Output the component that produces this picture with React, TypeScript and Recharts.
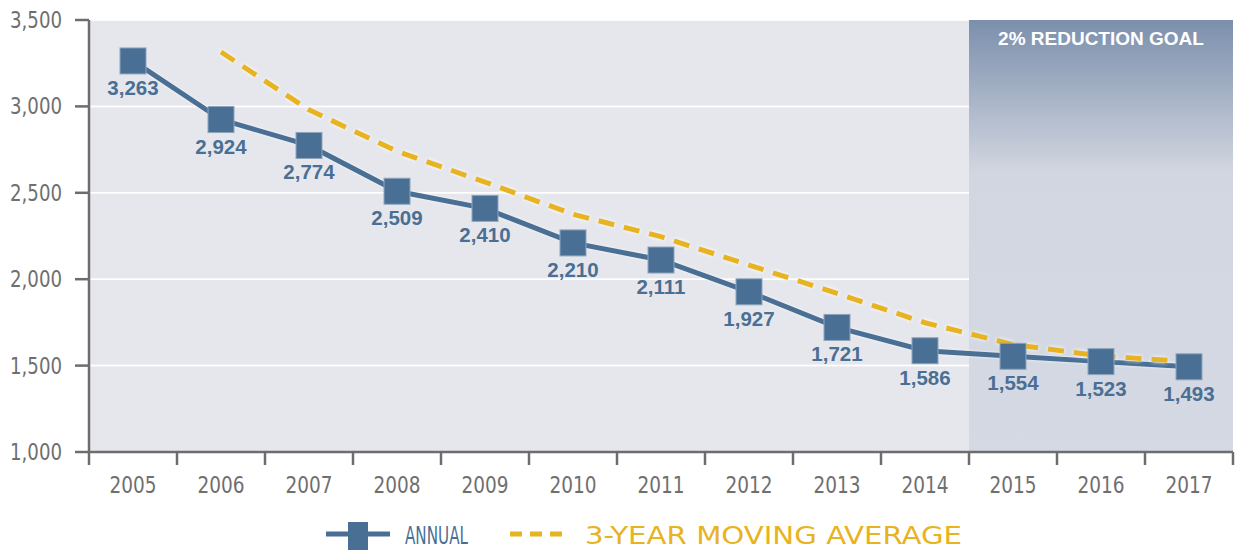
import {
  LineChart,
  Line,
  XAxis,
  YAxis,
  CartesianGrid,
  ReferenceArea,
  Legend,
  LabelList,
} from 'recharts'

const years = ['2005', '2006', '2007', '2008', '2009', '2010', '2011', '2012', '2013', '2014', '2015', '2016', '2017']
const annual = [3263, 2924, 2774, 2509, 2410, 2210, 2111, 1927, 1721, 1586, 1554, 1523, 1493]
const movingAverage = [null, 3315, 2980, 2740, 2562, 2376, 2246, 2082, 1918, 1748, 1622, 1556, 1522]
const yTicks = [1000, 1500, 2000, 2500, 3000, 3500]
const goalFrom = '2015'
const goalTo = '2017'
const goalLabel = '2% REDUCTION GOAL'

const data = years.map((year, i) => ({ year, annual: annual[i], avg: movingAverage[i] }))

const BLUE = '#4a6f94'
const YELLOW = '#e8b321'
const AXIS = '#6d6d6d'
const TEXT = '#6f6f6f'
const NARROW = "'DejaVu Sans Condensed', 'Liberation Sans Narrow', sans-serif"
const BOLD = "'Liberation Sans', Arial, sans-serif"

const fmt = (v: number) => v.toLocaleString('en-US')

function XTick(props: any) {
  const { x, y, payload, index, visibleTicksCount, width } = props
  const half = width / years.length / 2
  return (
    <g>
      <line x1={x - half} x2={x - half} y1={y} y2={y + 13} stroke={AXIS} strokeWidth={2.5} />
      {index === visibleTicksCount - 1 && (
        <line x1={x + half} x2={x + half} y1={y} y2={y + 13} stroke={AXIS} strokeWidth={2.5} />
      )}
      <text
        x={x}
        y={y + 41}
        textAnchor="middle"
        fontSize={23}
        fill={TEXT}
        fontFamily={NARROW}
        textLength={47}
        lengthAdjust="spacingAndGlyphs"
      >
        {payload.value}
      </text>
    </g>
  )
}

function YTick(props: any) {
  const { x, y, payload } = props
  return (
    <text
      x={x}
      y={y + 8}
      textAnchor="end"
      fontSize={23}
      fill={TEXT}
      fontFamily={NARROW}
      textLength={52}
      lengthAdjust="spacingAndGlyphs"
    >
      {fmt(payload.value)}
    </text>
  )
}

function SquareDot(props: any) {
  const { cx, cy, index } = props
  if (cx == null || cy == null) return null
  return (
    <rect
      key={`sq-${index}`}
      x={cx - 13}
      y={cy - 13}
      width={26}
      height={26}
      fill={BLUE}
      stroke="#8ea5bd"
      strokeWidth={1}
    />
  )
}

function ValueLabel(props: any) {
  const { x, y, value } = props
  return (
    <text x={x} y={y + 34} textAnchor="middle" fontSize={20.5} fontWeight="bold" fill={BLUE} fontFamily={BOLD}>
      {fmt(value)}
    </text>
  )
}

function ChartLegend() {
  const svgStyle = { overflow: 'visible' as const, display: 'block' }
  return (
    <div style={{ display: 'flex', alignItems: 'flex-start', height: 38, paddingLeft: 326, paddingTop: 4, boxSizing: 'border-box' }}>
      <svg width={64} height={32} style={{ ...svgStyle, marginRight: 14 }}>
        <line x1={0} x2={64} y1={18} y2={18} stroke={BLUE} strokeWidth={5} />
        <rect x={22} y={6} width={20} height={28} fill={BLUE} />
      </svg>
      <svg width={72} height={32} style={{ ...svgStyle, marginRight: 34 }}>
        <text x={1} y={28} fontSize={25} fill={BLUE} fontFamily={NARROW} textLength={63} lengthAdjust="spacingAndGlyphs">
          ANNUAL
        </text>
      </svg>
      <svg width={60} height={32} style={{ ...svgStyle, marginRight: 15 }}>
        <line x1={0} x2={60} y1={18} y2={18} stroke={YELLOW} strokeWidth={5} strokeDasharray="12 8" />
      </svg>
      <svg width={386} height={32} style={svgStyle}>
        <text x={0} y={28} fontSize={25} fill={YELLOW} fontFamily={NARROW} textLength={377} lengthAdjust="spacingAndGlyphs">
          3-YEAR MOVING AVERAGE
        </text>
      </svg>
    </div>
  )
}

export default function App() {
  return (
    <div style={{ width: 1238, height: 550, background: '#fff' }}>
      <style>{'body{margin:0}'}</style>
      <LineChart width={1238} height={550} data={data} margin={{ top: 20, right: 5, left: 0, bottom: 0 }}>
        <defs>
          <linearGradient id="goalGrad" x1="0" y1="0" x2="0" y2="1">
            <stop offset="0%" stopColor="#7b8fac" />
            <stop offset="35%" stopColor="#d1d6e0" />
            <stop offset="100%" stopColor="#d4d9e3" />
          </linearGradient>
        </defs>
        <CartesianGrid fill="#e6e7ec" stroke="#ffffff" strokeWidth={1.5} vertical={false} />
        <ReferenceArea
          x1={goalFrom}
          x2={goalTo}
          y1={1000}
          y2={3500}
          fill="url(#goalGrad)"
          fillOpacity={1}
          stroke="none"
          label={{
            value: goalLabel,
            position: 'insideTop',
            offset: 12,
            fill: '#ffffff',
            fontSize: 19,
            fontWeight: 'bold',
            fontFamily: BOLD,
          }}
        />
        <CartesianGrid stroke="#ffffff" strokeOpacity={0.7} strokeWidth={1.5} vertical={false} />
        <XAxis
          dataKey="year"
          scale="band"
          height={60}
          tickLine={false}
          tickSize={0}
          tickMargin={0}
          axisLine={{ stroke: AXIS, strokeWidth: 2.5 }}
          tick={<XTick />}
          interval={0}
        />
        <YAxis
          width={89}
          domain={[1000, 3500]}
          ticks={yTicks}
          tickSize={14}
          tickMargin={13}
          tickLine={{ stroke: AXIS, strokeWidth: 2.5 }}
          axisLine={{ stroke: AXIS, strokeWidth: 2.5 }}
          tick={<YTick />}
        />
        <Line
          dataKey="annual"
          type="linear"
          stroke={BLUE}
          strokeWidth={5}
          dot={<SquareDot />}
          activeDot={false}
          isAnimationActive={false}
          style={{ filter: 'drop-shadow(0 0 1.5px rgba(255,255,255,0.8))' }}
        >
          <LabelList dataKey="annual" content={<ValueLabel />} />
        </Line>
        <Line
          dataKey="avg"
          type="linear"
          stroke={YELLOW}
          strokeWidth={5}
          strokeDasharray="16 10"
          dot={false}
          activeDot={false}
          connectNulls
          isAnimationActive={false}
          style={{ filter: 'drop-shadow(0 0 2px rgba(255,255,255,0.95))' }}
        />
        <Legend verticalAlign="bottom" height={38} content={<ChartLegend />} />
      </LineChart>
    </div>
  )
}
